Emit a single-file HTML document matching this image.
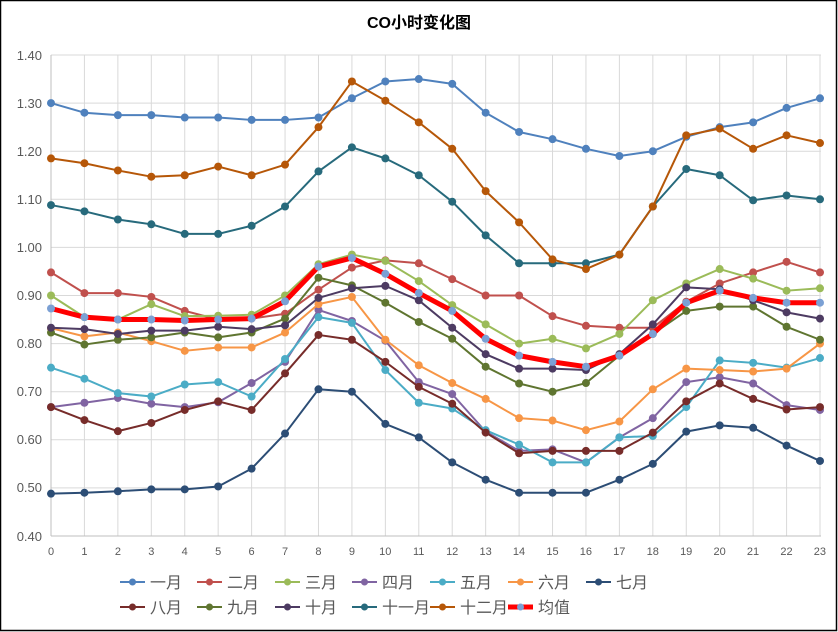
<!DOCTYPE html>
<html><head><meta charset="utf-8"><style>
html,body{margin:0;padding:0;background:#fff}
svg{display:block}
text{font-family:"Liberation Sans","Noto Sans CJK SC",sans-serif;fill:#595959}
</style></head><body>
<svg id="c" width="838" height="632" xmlns="http://www.w3.org/2000/svg">
<rect x="0.5" y="0.5" width="836" height="630" fill="#fff" stroke="#000" stroke-width="1.5"/>
<text x="419" y="28" text-anchor="middle" font-size="16" font-weight="bold" style="fill:#000">CO小时变化图</text>
<g id="grid" stroke="#d9d9d9" stroke-width="1"></g>
<g font-size="13" text-anchor="end">
<text x="42" y="60">1.40</text><text x="42" y="108">1.30</text><text x="42" y="156">1.20</text><text x="42" y="204">1.10</text><text x="42" y="252">1.00</text><text x="42" y="300">0.90</text><text x="42" y="348">0.80</text><text x="42" y="396">0.70</text><text x="42" y="444">0.60</text><text x="42" y="492">0.50</text><text x="42" y="541">0.40</text>
</g>
<g font-size="11" text-anchor="middle">
<text x="51" y="555">0</text><text x="84.4" y="555">1</text><text x="117.9" y="555">2</text><text x="151.3" y="555">3</text><text x="184.7" y="555">4</text><text x="218.2" y="555">5</text><text x="251.6" y="555">6</text><text x="285" y="555">7</text><text x="318.4" y="555">8</text><text x="351.9" y="555">9</text><text x="385.3" y="555">10</text><text x="418.7" y="555">11</text><text x="452.2" y="555">12</text><text x="485.6" y="555">13</text><text x="519" y="555">14</text><text x="552.5" y="555">15</text><text x="585.9" y="555">16</text><text x="619.3" y="555">17</text><text x="652.8" y="555">18</text><text x="686.2" y="555">19</text><text x="719.6" y="555">20</text><text x="753" y="555">21</text><text x="786.5" y="555">22</text><text x="819.9" y="555">23</text>
</g>
<g id="series"></g>
<g id="leg"></g>
<g font-size="16">
<text x="150" y="588">一月</text><text x="227" y="588">二月</text><text x="305" y="588">三月</text><text x="382" y="588">四月</text><text x="460" y="588">五月</text><text x="538" y="588">六月</text><text x="616" y="588">七月</text>
<text x="150" y="613">八月</text><text x="227" y="613">九月</text><text x="305" y="613">十月</text><text x="382" y="613">十一月</text><text x="460" y="613">十二月</text><text x="538" y="613">均值</text>
</g>
</svg>
<script>
const X=i=>51+i*33.435, Y=v=>55+(1.40-v)*481;
const ns="http://www.w3.org/2000/svg";
function el(p,t,a){const e=document.createElementNS(ns,t);for(const k in a)e.setAttribute(k,a[k]);p.appendChild(e);return e;}
const g=document.getElementById('grid');
for(let k=0;k<=10;k++){const y=Y(0.4+k*0.1);el(g,'line',{x1:51,x2:821,y1:y,y2:y});}
for(let i=0;i<=23;i++){el(g,'line',{x1:X(i),x2:X(i),y1:55,y2:536});}
el(g,'line',{x1:51,x2:51,y1:55,y2:536,stroke:'#bfbfbf'});
el(g,'line',{x1:51,x2:821,y1:536,y2:536,stroke:'#bfbfbf'});
const S=[
['#4f81bd','#4f81bd',[1.30,1.28,1.275,1.275,1.27,1.27,1.265,1.265,1.27,1.31,1.345,1.35,1.34,1.28,1.24,1.225,1.205,1.19,1.20,1.23,1.25,1.26,1.29,1.31]],
['#c0504d','#c0504d',[.948,.905,.905,.897,.868,.85,.852,.862,.912,.958,.973,.967,.934,.90,.90,.857,.837,.833,.833,.887,.925,.948,.97,.948]],
['#9bbb59','#9bbb59',[.90,.855,.85,.882,.857,.858,.86,.90,.965,.985,.972,.93,.88,.84,.80,.81,.79,.82,.89,.925,.955,.935,.91,.915]],
['#8064a2','#8064a2',[.668,.677,.687,.675,.668,.678,.718,.762,.87,.847,.806,.72,.695,.617,.577,.58,.553,.605,.645,.72,.73,.717,.672,.662]],
['#4bacc6','#4bacc6',[.75,.727,.697,.69,.715,.72,.69,.768,.855,.843,.745,.677,.665,.62,.59,.553,.553,.605,.608,.668,.765,.76,.75,.77]],
['#f79646','#f79646',[.832,.815,.823,.805,.785,.792,.792,.823,.882,.897,.808,.755,.718,.685,.645,.64,.62,.638,.705,.748,.745,.742,.748,.80]],
['#2c4d75','#2c4d75',[.488,.49,.493,.497,.497,.503,.54,.613,.705,.70,.633,.605,.553,.517,.49,.49,.49,.517,.55,.617,.63,.625,.588,.556]],
['#772c2a','#772c2a',[.668,.641,.618,.635,.662,.68,.662,.738,.818,.808,.762,.71,.675,.615,.572,.577,.577,.577,.615,.68,.717,.685,.663,.668]],
['#5f7530','#5f7530',[.823,.798,.808,.813,.823,.813,.823,.852,.937,.921,.885,.845,.81,.752,.717,.7,.718,.775,.82,.868,.877,.877,.835,.808]],
['#4d3b62','#4d3b62',[.833,.83,.82,.827,.827,.835,.83,.838,.895,.915,.92,.89,.833,.778,.748,.748,.745,.778,.84,.917,.913,.89,.865,.852]],
['#276a7c','#276a7c',[1.088,1.075,1.058,1.048,1.028,1.028,1.045,1.085,1.158,1.208,1.185,1.15,1.095,1.025,.967,.967,.967,.985,1.085,1.163,1.15,1.098,1.108,1.1]],
['#b65708','#b65708',[1.185,1.175,1.16,1.147,1.15,1.168,1.15,1.172,1.25,1.345,1.305,1.26,1.205,1.117,1.052,.975,.955,.985,1.085,1.233,1.247,1.205,1.233,1.217]],
['#ff0000','#7ba0d4',[.873,.855,.85,.85,.848,.85,.852,.888,.96,.978,.945,.905,.868,.81,.775,.762,.752,.775,.82,.885,.91,.895,.885,.885]]
];
const s=document.getElementById('series'),L=document.getElementById('leg');
const cols=[120,197,275,352,430,508,586];
S.forEach((d,j)=>{
 const w=j==12?5:2;
 el(s,'polyline',{points:d[2].map((v,i)=>X(i)+','+Y(v)).join(' '),fill:'none',stroke:d[0],'stroke-width':w,'stroke-linejoin':'round'});
 d[2].forEach((v,i)=>el(s,'circle',{cx:X(i),cy:Y(v),r:4,fill:d[1]}));
 const lx=cols[j<7?j:j-7], ly=j<7?582:607;
 el(L,'line',{x1:lx,x2:lx+25,y1:ly,y2:ly,stroke:d[0],'stroke-width':w});
 el(L,'circle',{cx:lx+12.5,cy:ly,r:3.5,fill:d[1]});
});
</script>
</body></html>
